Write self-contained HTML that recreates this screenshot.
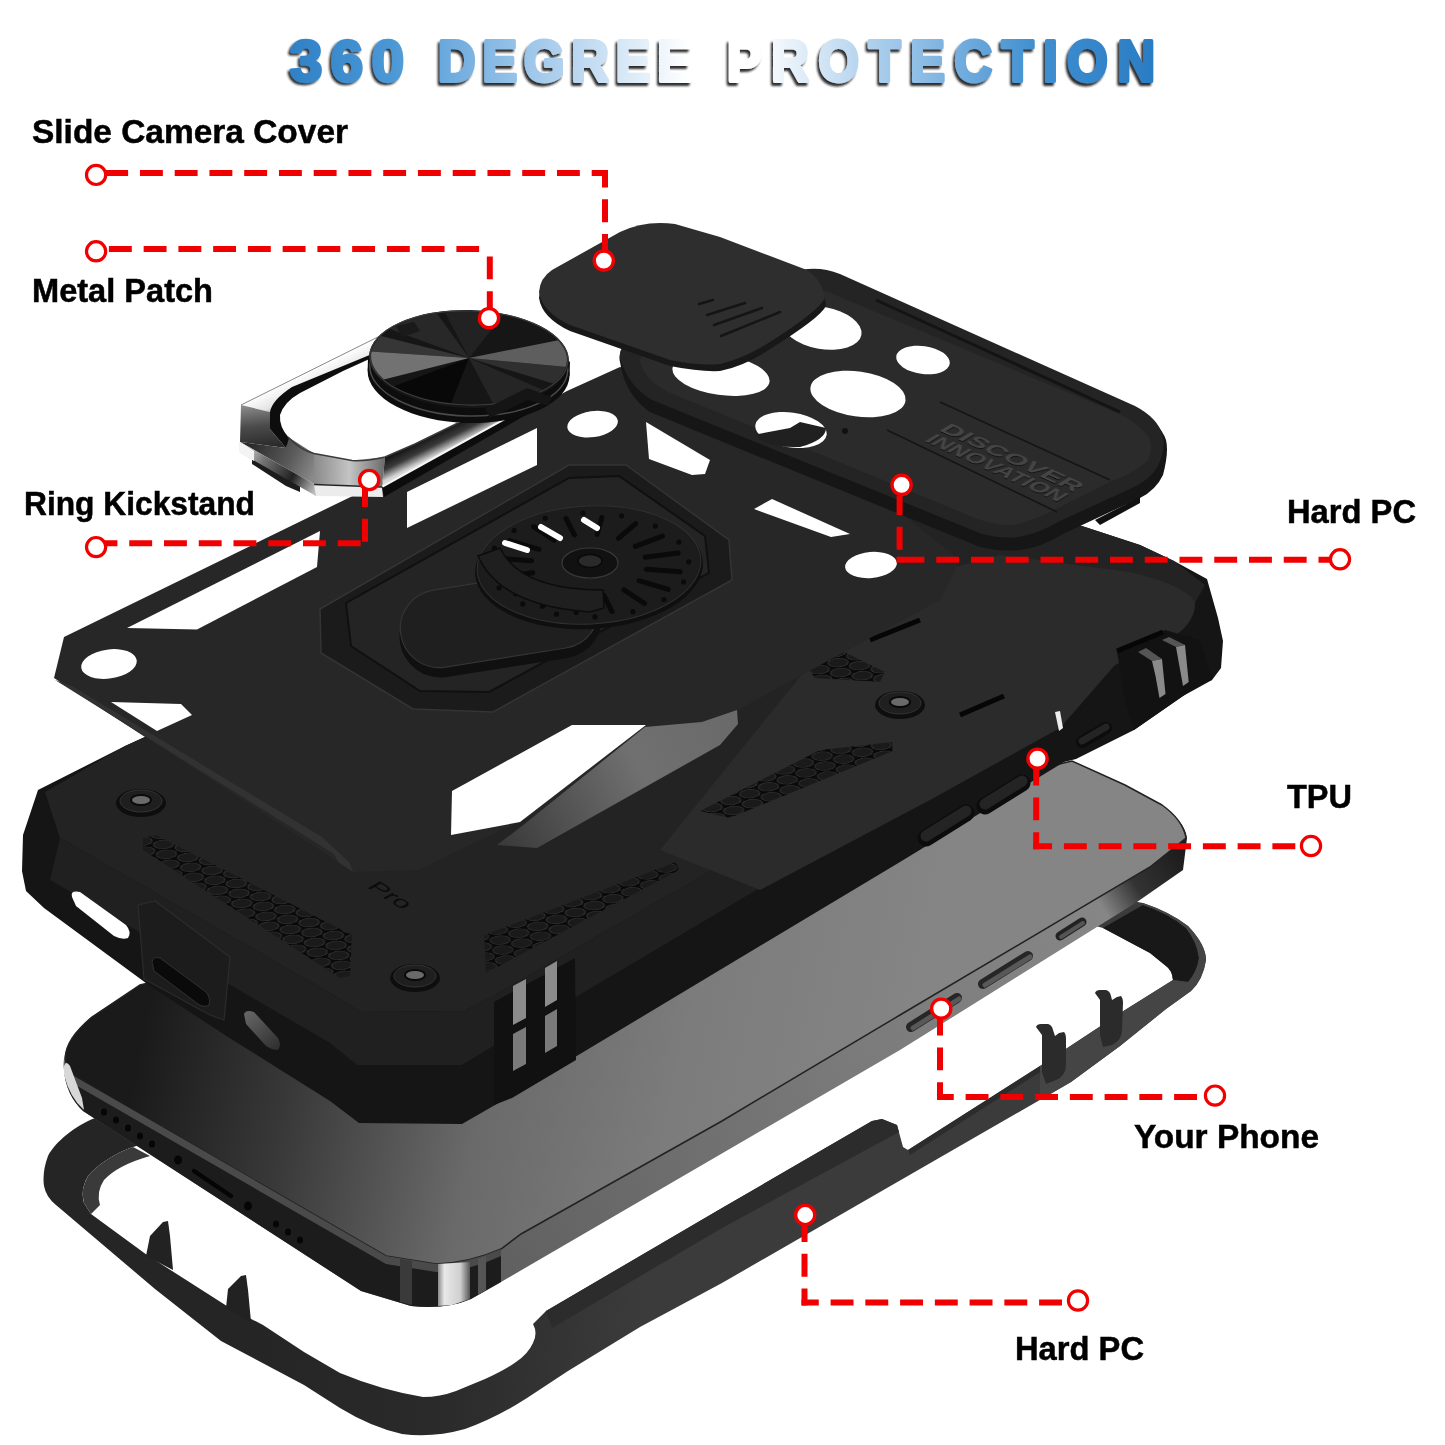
<!DOCTYPE html>
<html><head><meta charset="utf-8"><title>360 Degree Protection</title>
<style>html,body{margin:0;padding:0;background:#fff;}svg{display:block}</style></head>
<body><svg width="1445" height="1445" viewBox="0 0 1445 1445">
<rect width="1445" height="1445" fill="#fff"/>

<defs>
<linearGradient id="gTitle" x1="288" x2="1158" y1="0" y2="0" gradientUnits="userSpaceOnUse">
<stop offset="0" stop-color="#2f80c6"/><stop offset="0.12" stop-color="#4c98d6"/><stop offset="0.3" stop-color="#a9cdec"/><stop offset="0.46" stop-color="#ffffff"/><stop offset="0.54" stop-color="#ffffff"/><stop offset="0.68" stop-color="#a9cdec"/><stop offset="0.86" stop-color="#3f8fd0"/><stop offset="1" stop-color="#2a7cc4"/>
</linearGradient>
<linearGradient id="gScreen" x1="150" y1="1000" x2="900" y2="1150" gradientUnits="userSpaceOnUse">
<stop offset="0" stop-color="#1a1a1a"/><stop offset="0.2" stop-color="#383838"/><stop offset="0.45" stop-color="#6a6a6a"/><stop offset="0.7" stop-color="#7c7c7c"/><stop offset="1" stop-color="#858585"/>
</linearGradient>
<linearGradient id="gSide" x1="500" y1="1280" x2="1180" y2="850" gradientUnits="userSpaceOnUse">
<stop offset="0" stop-color="#606060"/><stop offset="0.5" stop-color="#7a7a7a"/><stop offset="0.88" stop-color="#868686"/><stop offset="0.93" stop-color="#333"/><stop offset="1" stop-color="#1c1c1c"/>
</linearGradient>
<linearGradient id="gSlab" x1="500" y1="840" x2="730" y2="720" gradientUnits="userSpaceOnUse">
<stop offset="0" stop-color="#3a3a3a"/><stop offset="0.6" stop-color="#707070"/><stop offset="1" stop-color="#6a6a6a"/>
</linearGradient>
<linearGradient id="gArm" x1="452" y1="425" x2="461" y2="443" gradientUnits="userSpaceOnUse">
<stop offset="0" stop-color="#151515"/><stop offset="0.5" stop-color="#3a3a3a"/><stop offset="1" stop-color="#d8d8d8"/>
</linearGradient>
<linearGradient id="gRingTop" x1="316" y1="367" x2="328" y2="392" gradientUnits="userSpaceOnUse">
<stop offset="0" stop-color="#ffffff"/><stop offset="0.6" stop-color="#e4e4e4"/><stop offset="1" stop-color="#8c8c8c"/>
</linearGradient>
<linearGradient id="gRingLeft" x1="255" y1="405" x2="260" y2="448" gradientUnits="userSpaceOnUse">
<stop offset="0" stop-color="#8a8a8a"/><stop offset="0.5" stop-color="#4a4a4a"/><stop offset="1" stop-color="#2a2a2a"/>
</linearGradient>
<linearGradient id="gRingBL" x1="250" y1="445" x2="314" y2="475" gradientUnits="userSpaceOnUse">
<stop offset="0" stop-color="#2a2a2a"/><stop offset="0.6" stop-color="#5a5a5a"/><stop offset="1" stop-color="#8a8a8a"/>
</linearGradient>
<linearGradient id="gRingBot" x1="314" y1="475" x2="385" y2="476" gradientUnits="userSpaceOnUse">
<stop offset="0" stop-color="#8a8a8a"/><stop offset="0.5" stop-color="#c4c4c4"/><stop offset="1" stop-color="#6a6a6a"/>
</linearGradient>
<linearGradient id="gRingEdge" x1="240" y1="447" x2="315" y2="490" gradientUnits="userSpaceOnUse">
<stop offset="0" stop-color="#f0f0f0"/><stop offset="0.3" stop-color="#777"/><stop offset="0.7" stop-color="#222"/><stop offset="1" stop-color="#bbb"/>
</linearGradient>
<linearGradient id="gBevel" x1="370" y1="350" x2="285" y2="445" gradientUnits="userSpaceOnUse">
<stop offset="0" stop-color="#bdbdbd"/><stop offset="1" stop-color="#666"/>
</linearGradient>
<linearGradient id="gSlot" x1="246" y1="1012" x2="280" y2="1050" gradientUnits="userSpaceOnUse">
<stop offset="0" stop-color="#666"/><stop offset="1" stop-color="#2c2c2c"/>
</linearGradient>
<pattern id="hex" width="20" height="34.64" patternUnits="userSpaceOnUse" patternTransform="matrix(0.94,-0.345,0.70,0.376,0,0)">
<rect width="20" height="34.64" fill="#0a0a0a"/>
<circle cx="10" cy="8.66" r="8.6" fill="#1a1a1a" stroke="#3a3a3a" stroke-width="0.9"/>
<circle cx="0" cy="25.98" r="8.6" fill="#1a1a1a" stroke="#3a3a3a" stroke-width="0.9"/>
<circle cx="20" cy="25.98" r="8.6" fill="#1a1a1a" stroke="#3a3a3a" stroke-width="0.9"/>
</pattern>
<linearGradient id="gChrome" x1="438" y1="0" x2="470" y2="0" gradientUnits="userSpaceOnUse">
<stop offset="0" stop-color="#8a8a8a"/><stop offset="0.2" stop-color="#e8e8e8"/><stop offset="0.7" stop-color="#cfcfcf"/><stop offset="1" stop-color="#555"/>
</linearGradient>
<linearGradient id="gFrame" x1="250" y1="1300" x2="640" y2="1330" gradientUnits="userSpaceOnUse">
<stop offset="0" stop-color="#252525"/><stop offset="0.5" stop-color="#2a2a2a"/><stop offset="1" stop-color="#3b3b3b"/>
</linearGradient>
<filter id="tsh" x="-3%" y="-30%" width="106%" height="170%"><feGaussianBlur in="SourceAlpha" stdDeviation="1.1" result="b"/><feOffset in="b" dx="-2.5" dy="2.3" result="o"/><feFlood flood-color="#161616" flood-opacity="0.9"/><feComposite in2="o" operator="in" result="sh"/><feMerge><feMergeNode in="sh"/><feMergeNode in="SourceGraphic"/></feMerge></filter>
<filter id="emb" x="-5%" y="-30%" width="110%" height="160%"><feOffset in="SourceAlpha" dx="1" dy="1" result="o"/><feFlood flood-color="#111"/><feComposite in2="o" operator="in" result="sh"/><feMerge><feMergeNode in="sh"/><feMergeNode in="SourceGraphic"/></feMerge></filter>
</defs>

<path d="M95,1118 C75,1126 55,1142 48,1156 Q42,1172 44,1186 Q46,1197 56,1205 L155,1289 L221,1341 L304,1385 L340,1408 Q371,1427 402,1434 Q433,1438 465,1429 Q496,1418 527,1398 L568,1371 L640,1327 L722,1283 L1071,1082 L1120,1046 L1166,1009 L1191,991 Q1203,980 1206,960 Q1206,945 1188,926 Q1170,912 1143,903 L1100,895 L900,1000 Z M133,1147 C115,1153 97,1165 88,1176 Q80,1190 84,1203 L91,1214 L147,1255 L230,1308 L263,1325 L304,1352 L340,1373 Q381,1390 423,1397 Q440,1397 456,1391 L485,1379 Q505,1370 516,1362 Q528,1354 533,1343 Q538,1333 533,1324 L546,1311 L722,1208 L872,1121 L882,1119 L897,1125 L903,1147 L908,1150 L1040,1066 L1125,1010 L1173,980 Q1172,970 1166,966 L1150,953 L1103,928 L1000,900 Z" fill="url(#gFrame)" fill-rule="evenodd"/>
<path d="M1103,928 L1143,905 Q1168,913 1186,928 Q1197,942 1199,958 Q1197,972 1188,982 L1173,980 Q1172,970 1166,966 L1150,953 Z" fill="#181818" />
<path d="M1143,903 Q1170,912 1188,926 Q1206,945 1206,960 Q1203,980 1191,991 L1166,1009 L1120,1046 L1071,1082 L1040,1100 L1040,1066 L1125,1010 L1173,980 L1188,982 Q1197,972 1199,958 Q1197,942 1186,928 Q1168,913 1143,905 Z" fill="#454545" />
<path d="M546,1311 L722,1208 L872,1121 L882,1119 L897,1125 L899,1132 L722,1228 L552,1328 Z" fill="#2c2c2c" />
<path d="M908,1150 L1040,1066 L1040,1072 L910,1155 Z" fill="#2c2c2c" />
<path d="M133,1147 C115,1153 97,1165 88,1176 Q80,1190 84,1203 L91,1214 L100,1205 Q96,1192 104,1180 Q118,1165 150,1156 Z" fill="#3a3a3a" />
<path d="M146,1256 L150,1236 L163,1222 L168,1221 L170,1236 L173,1270 Z" fill="#222" />
<path d="M226,1308 L228,1289 L241,1276 L246,1275 L248,1290 L251,1322 Z" fill="#222" />
<path d="M1095,993 Q1096,990 1100,990 L1106,990 Q1110,991 1111,996 L1112,1000 L1117,997 L1121,996 Q1123,998 1123,1003 L1122,1030 Q1122,1040 1112,1045 L1103,1047 L1100,1035 L1100,1000 Z" fill="#2b2b2b" />
<path d="M1036,1027 Q1037,1024 1041,1024 L1048,1024 Q1052,1025 1053,1030 L1055,1036 L1059,1033 L1064,1032 Q1066,1034 1066,1039 L1066,1064 Q1066,1076 1056,1080 L1046,1084 L1042,1072 L1042,1035 Z" fill="#2b2b2b" />
<path d="M64,1070 Q60,1045 90,1018 L140,985 L1072,761 L1125,785 L1162,805 Q1185,822 1187,838 L1183,870 L1137,902 L900,1050 L501,1282 L471,1299 Q445,1310 411,1306 L361,1291 L83,1111 Q66,1095 64,1070 Z" fill="url(#gSide)" />
<path d="M64,1070 L72,1075 L386,1256 L436,1264 Q470,1263 501,1249 L501,1282 L471,1299 Q445,1310 411,1306 L361,1291 L83,1111 Q66,1095 64,1070 Z" fill="#1c1c1c" />
<path d="M66,1062 Q62,1042 92,1017 L140,985 L1072,761 L1125,785 L1162,805 Q1183,820 1186,838 L1150,867 L900,1015 L722,1121 L521,1234 L501,1249 Q470,1263 436,1264 L386,1256 L72,1075 Z" fill="url(#gScreen)" stroke="#222" stroke-width="1.5"/>
<path d="M72,1075 L386,1256 L436,1264 Q470,1263 501,1249 L501,1256 Q470,1271 436,1272 L386,1264 L72,1083 Z" fill="#4a4a4a" />
<path d="M64,1066 Q66,1060 70,1066 L82,1098 L84,1110 Q70,1098 64,1075 Z" fill="#d8d8d8" />
<polygon points="400.0,1259.0 412.0,1261.0 412.0,1305.0 400.0,1302.0" fill="#3a3a3a" />
<polygon points="438.0,1264.0 470.0,1262.0 470.0,1299.0 452.0,1305.0 438.0,1306.0" fill="url(#gChrome)" />
<polygon points="478.0,1259.0 486.0,1256.0 486.0,1290.0 478.0,1295.0" fill="#555" />
<ellipse cx="104" cy="1112" rx="3" ry="3.6" fill="#060606"/>
<ellipse cx="116" cy="1120" rx="3" ry="3.6" fill="#060606"/>
<ellipse cx="128" cy="1128" rx="3" ry="3.6" fill="#060606"/>
<ellipse cx="140" cy="1136" rx="3" ry="3.6" fill="#060606"/>
<ellipse cx="152" cy="1144" rx="3" ry="3.6" fill="#060606"/>
<ellipse cx="276" cy="1224" rx="3" ry="3.6" fill="#060606"/>
<ellipse cx="288" cy="1232" rx="3" ry="3.6" fill="#060606"/>
<ellipse cx="300" cy="1240" rx="3" ry="3.6" fill="#060606"/>
<ellipse cx="178" cy="1160" rx="4" ry="4.5" fill="#060606"/><ellipse cx="248" cy="1206" rx="4" ry="4.5" fill="#060606"/>
<path d="M194,1171 L231,1196" stroke="#050505" stroke-width="4.5" stroke-linecap="round"/>
<path d="M1060,936 L1082,922" stroke="#222" stroke-width="9" stroke-linecap="round"/><path d="M1061,937 L1083,923" stroke="#555" stroke-width="4" stroke-linecap="round"/>
<path d="M983,984 L1028,956" stroke="#262626" stroke-width="10" stroke-linecap="round"/><path d="M985,985 L1030,957" stroke="#585858" stroke-width="5" stroke-linecap="round"/>
<path d="M911,1027 L957,998" stroke="#262626" stroke-width="10" stroke-linecap="round"/><path d="M913,1028 L959,999" stroke="#585858" stroke-width="5" stroke-linecap="round"/>
<path d="M230,700 L190,716 L125,746 L38,790 L23,835 L22,871 L26,891 L44,908 L150,986 L228,1037 L330,1101 L359,1123 L462,1124 L495,1105 L900,862 L1064,762 L1076,759 L1134,730 L1183,696 L1200,684 L1212,680 L1221,668 L1223,641 L1218,618 L1207,579 L1174,561 L1140,545 L1085,527 L1000,500 L560,400 Z" fill="#151515" />
<path d="M230,700 L125,746 L45,792 L60,838 L330,993 L361,1012 L464,1011 L495,995 L900,762 L1075,660 L1117,640 L1190,612 L1205,585 L1174,561 L1140,545 L1085,527 L1000,500 L560,400 Z" fill="#232323" />
<path d="M60,838 L330,993 L361,1012 L464,1011 L495,995 L900,762 L1075,660 L1075,700 L900,805 L495,1045 L462,1065 L357,1065 L330,1043 L50,880 Z" fill="#202020" />
<path d="M870,590 L1000,555 L1130,572 Q1185,585 1195,602 Q1196,625 1165,642 L1115,665 L1060,728 L930,800 L760,890 L660,850 Z" fill="#2b2b2b" />
<path d="M72,897 Q70,890 80,892 L126,925 Q132,932 128,938 Q122,940 114,936 L76,906 Z" fill="#fff" />
<path d="M244,1014 Q246,1009 254,1012 L278,1038 Q282,1045 278,1050 Q272,1050 266,1046 L246,1024 Z" fill="url(#gSlot)" />
<polygon points="138.0,905.0 155.0,901.0 230.0,957.0 224.0,1020.0 210.0,1015.0 144.0,979.0" fill="#1c1c1c" stroke="#2c2c2c" stroke-width="1.2"/>
<path d="M152,962 Q153,956 160,958 L206,992 Q211,998 209,1005 Q204,1008 198,1004 L154,971 Z" fill="#0a0a0a" stroke="#303030" stroke-width="1"/>
<path d="M926,838 L966,813" stroke="#0c0c0c" stroke-width="17" stroke-linecap="round"/><path d="M926,836 L966,811" stroke="#242424" stroke-width="11" stroke-linecap="round"/>
<path d="M985,806 L1022,783" stroke="#0c0c0c" stroke-width="17" stroke-linecap="round"/><path d="M985,804 L1022,781" stroke="#242424" stroke-width="11" stroke-linecap="round"/>
<path d="M1082,742 L1106,728" stroke="#0c0c0c" stroke-width="12" stroke-linecap="round"/><path d="M1082,741 L1106,727" stroke="#242424" stroke-width="7" stroke-linecap="round"/>
<polygon points="494.0,1002.0 575.0,958.0 576.0,1060.0 512.0,1098.0 494.0,1105.0" fill="#111" />
<polygon points="513.0,986.0 526.0,979.0 526.0,1018.0 513.0,1025.0" fill="#8c8c8c" />
<polygon points="513.0,1034.0 526.0,1027.0 526.0,1064.0 513.0,1071.0" fill="#7a7a7a" />
<polygon points="545.0,968.0 557.0,961.0 557.0,1000.0 545.0,1007.0" fill="#8c8c8c" />
<polygon points="545.0,1016.0 557.0,1009.0 557.0,1046.0 545.0,1053.0" fill="#7a7a7a" />
<polygon points="1117.0,652.0 1165.0,630.0 1200.0,640.0 1212.0,680.0 1183.0,696.0 1134.0,730.0 1125.0,700.0" fill="#121212" />
<polygon points="1138.0,652.0 1146.0,648.0 1162.0,659.0 1152.0,661.0" fill="#555" />
<polygon points="1162.0,640.0 1169.0,637.0 1185.0,645.0 1176.0,647.0" fill="#555" />
<polygon points="1152.0,661.0 1162.0,659.0 1165.5,694.0 1159.5,698.0 1155.5,676.0" fill="#8a8a8a" />
<polygon points="1176.0,647.0 1185.0,645.0 1188.7,682.0 1183.0,686.0" fill="#8a8a8a" />
<polygon points="1055.0,712.0 1060.0,711.0 1063.0,728.0 1059.0,731.0" fill="#eee" />
<path d="M1117,651 L1163,632 M960,715 L1004,696 M870,640 L920,620" stroke="#060606" stroke-width="5" fill="none"/>
<polygon points="143.0,838.0 156.0,835.0 352.0,935.0 350.0,976.0 340.0,978.0 143.0,850.0" fill="url(#hex)" />
<polygon points="484.0,935.0 676.0,862.0 679.0,870.0 486.0,973.0" fill="url(#hex)" />
<polygon points="700.0,811.0 820.0,750.0 892.0,742.0 893.0,751.0 730.0,818.0" fill="url(#hex)" />
<polygon points="735.0,620.0 760.0,612.0 800.0,640.0 790.0,652.0" fill="url(#hex)" />
<polygon points="800.0,655.0 830.0,645.0 885.0,672.0 880.0,682.0 815.0,678.0" fill="url(#hex)" />
<polygon points="195.0,738.0 215.0,732.0 253.0,756.0 250.0,768.0 205.0,752.0" fill="url(#hex)" />
<ellipse cx="415" cy="978" rx="25" ry="14" fill="#0e0e0e"/><ellipse cx="415" cy="976" rx="21" ry="11" fill="#1f1f1f" stroke="#333" stroke-width="1"/><ellipse cx="415" cy="975" rx="10" ry="5" fill="#6a6a6a" stroke="#0a0a0a" stroke-width="2"/>
<ellipse cx="141" cy="803" rx="25" ry="14" fill="#0e0e0e"/><ellipse cx="141" cy="801" rx="21" ry="11" fill="#1f1f1f" stroke="#333" stroke-width="1"/><ellipse cx="141" cy="800" rx="10" ry="5" fill="#6a6a6a" stroke="#0a0a0a" stroke-width="2"/>
<ellipse cx="900" cy="705" rx="25" ry="14" fill="#0e0e0e"/><ellipse cx="900" cy="703" rx="21" ry="11" fill="#1f1f1f" stroke="#333" stroke-width="1"/><ellipse cx="900" cy="702" rx="10" ry="5" fill="#6a6a6a" stroke="#0a0a0a" stroke-width="2"/>
<text transform="matrix(0.85,0.53,-0.62,0.36,366,887)" font-family="'Liberation Sans', sans-serif" font-size="28" fill="#0c0c0c" opacity="0.999">Pro</text>
<path d="M64,637 L334,505 L537,407 L567,391 L620,367 L640,372 L760,400 L960,560 L940,600 L600,785 L457,851 L419,870 L353,872 L338,862 L54,678 Z" fill="#272727" />
<polygon points="127.0,628.0 320.0,531.0 317.0,567.0 197.0,629.5" fill="#fff" />
<polygon points="407.0,492.0 537.0,428.0 537.0,465.0 407.0,528.0" fill="#fff" />
<polygon points="111.0,702.0 181.0,704.0 192.0,715.0 157.0,731.0" fill="#fff" />
<polygon points="55.0,680.0 334.0,854.0 338.0,862.0 353.0,872.0 349.0,862.0 322.0,837.0 72.0,686.0" fill="#323232" />
<polygon points="452.0,791.0 572.0,725.0 646.0,725.0 520.0,822.0 451.0,835.0" fill="#fff" />
<polygon points="497.0,845.0 522.0,826.0 645.0,727.0 702.0,722.0 737.0,710.0 738.0,724.0 720.0,745.0 537.0,848.0" fill="url(#gSlab)" />
<ellipse cx="109" cy="664" rx="28" ry="14.5" fill="#fff" transform="rotate(-8 109 664)"/>
<ellipse cx="593" cy="424" rx="25.5" ry="13" fill="#fff" transform="rotate(-8 594 427)"/>
<ellipse cx="871" cy="565" rx="26" ry="13" fill="#fff" transform="rotate(-5 871 565)"/>
<polygon points="320.0,609.0 569.0,465.0 626.0,465.0 729.0,540.0 732.0,580.0 493.0,712.0 413.0,709.0 321.0,653.0" fill="#1b1b1b" stroke="#343434" stroke-width="1.5"/>
<polygon points="346.0,603.0 569.0,478.0 619.0,476.0 705.0,536.0 709.0,573.0 489.0,692.0 420.0,691.0 351.0,646.0" fill="#242424" stroke="#101010" stroke-width="2"/>
<g transform="rotate(-9 500 622)"><rect x="398" y="586" width="204" height="82" rx="41" fill="#101010"/><rect x="400" y="580" width="200" height="78" rx="39" fill="#1f1f1f" stroke="#343434" stroke-width="1.2"/></g>
<ellipse cx="589" cy="568" rx="114" ry="61" fill="#0f0f0f" transform="rotate(-3 589 568)"/>
<ellipse cx="589" cy="565" rx="112" ry="59" fill="#1c1c1c" stroke="#303030" stroke-width="1" transform="rotate(-3 589 565)"/>
<ellipse cx="590" cy="563" rx="28" ry="15" fill="#111" stroke="#383838" stroke-width="1.2"/>
<ellipse cx="590" cy="561" rx="12" ry="6.5" fill="#2a2a2a" stroke="#0a0a0a" stroke-width="1.5"/>
<path d="M646.4,569.3 L680.1,571.7" stroke="#0a0a0a" stroke-width="5" stroke-linecap="round"/>
<circle cx="683.6" cy="581.9" r="2.6" fill="#0b0b0b"/>
<path d="M639.0,580.7 L668.3,589.4" stroke="#0a0a0a" stroke-width="5" stroke-linecap="round"/>
<circle cx="663.9" cy="599.5" r="2.6" fill="#0b0b0b"/>
<path d="M623.9,589.8 L644.4,603.3" stroke="#0a0a0a" stroke-width="5" stroke-linecap="round"/>
<circle cx="632.8" cy="611.7" r="2.6" fill="#0b0b0b"/>
<path d="M603.5,595.0 L612.0,611.5" stroke="#0a0a0a" stroke-width="5" stroke-linecap="round"/>
<circle cx="595.1" cy="616.9" r="2.6" fill="#0b0b0b"/>
<path d="M580.9,595.7 L576.2,612.5" stroke="#0a0a0a" stroke-width="5" stroke-linecap="round"/>
<circle cx="556.4" cy="614.2" r="2.6" fill="#0b0b0b"/>
<path d="M559.6,591.7 L542.3,606.4" stroke="#0a0a0a" stroke-width="5" stroke-linecap="round"/>
<circle cx="522.7" cy="603.9" r="2.6" fill="#0b0b0b"/>
<path d="M542.7,583.7 L515.5,593.9" stroke="#0a0a0a" stroke-width="5" stroke-linecap="round"/>
<circle cx="499.1" cy="587.8" r="2.6" fill="#0b0b0b"/>
<path d="M532.8,572.8 L499.9,577.0" stroke="#0a0a0a" stroke-width="5" stroke-linecap="round"/>
<circle cx="489.2" cy="568.2" r="2.6" fill="#0b0b0b"/>
<path d="M531.6,560.7 L497.9,558.3" stroke="#0a0a0a" stroke-width="5" stroke-linecap="round"/>
<circle cx="494.4" cy="548.1" r="2.6" fill="#0b0b0b"/>
<path d="M539.0,549.3 L509.7,540.6" stroke="#0a0a0a" stroke-width="5" stroke-linecap="round"/>
<circle cx="514.1" cy="530.5" r="2.6" fill="#0b0b0b"/>
<path d="M554.1,540.2 L533.6,526.7" stroke="#0a0a0a" stroke-width="5" stroke-linecap="round"/>
<circle cx="545.2" cy="518.3" r="2.6" fill="#0b0b0b"/>
<path d="M574.5,535.0 L566.0,518.5" stroke="#0a0a0a" stroke-width="5" stroke-linecap="round"/>
<circle cx="582.9" cy="513.1" r="2.6" fill="#0b0b0b"/>
<path d="M597.1,534.3 L601.8,517.5" stroke="#0a0a0a" stroke-width="5" stroke-linecap="round"/>
<circle cx="621.6" cy="515.8" r="2.6" fill="#0b0b0b"/>
<path d="M618.4,538.3 L635.7,523.6" stroke="#0a0a0a" stroke-width="5" stroke-linecap="round"/>
<circle cx="655.3" cy="526.1" r="2.6" fill="#0b0b0b"/>
<path d="M635.3,546.3 L662.5,536.1" stroke="#0a0a0a" stroke-width="5" stroke-linecap="round"/>
<circle cx="678.9" cy="542.2" r="2.6" fill="#0b0b0b"/>
<path d="M645.2,557.2 L678.1,553.0" stroke="#0a0a0a" stroke-width="5" stroke-linecap="round"/>
<circle cx="688.8" cy="561.8" r="2.6" fill="#0b0b0b"/>
<path d="M541,527 L560,538 M584,520 L597,528 M505,543 L527,550" stroke="#fff" stroke-width="6" stroke-linecap="round"/>
<path d="M478,556 Q500,606 590,612 L604,608 L603,590 Q520,590 500,548 Z" fill="#1f1f1f" stroke="#0c0c0c" stroke-width="1.5"/>
<polygon points="646.0,422.0 710.0,460.0 705.0,474.0 692.0,475.0 649.0,459.0" fill="#fff" />
<polygon points="754.0,509.0 772.0,499.0 850.0,534.0 831.0,537.0" fill="#fff" />
<path d="M620,362 Q617,350 630,343 L790,275 Q815,266 840,276 L1135,410 Q1160,422 1166,440 Q1169,452 1163,475 Q1156,490 1140,498 L1065,533 Q1040,548 1020,550 Q1000,552 980,547 L650,412 Q625,395 620,362 Z" fill="#161616" />
<path d="M620,358 Q618,348 630,341 L790,273 Q815,264 840,274 L1135,406 Q1158,418 1163,436 Q1166,448 1158,466 Q1150,480 1132,488 L1060,521 Q1038,534 1018,537 Q1000,539 982,534 L652,400 Q628,386 620,358 Z" fill="#242424" />
<path d="M640,362 Q640,352 652,346 L800,292 Q820,286 840,297 L1122,415 Q1145,428 1150,440 Q1153,450 1148,460 Q1140,470 1110,482 L1060,507 Q1035,520 1015,525 Q998,526 980,520 L668,392 Q645,380 640,362 Z" fill="#2b2b2b" />
<ellipse cx="721" cy="375" rx="49" ry="20" fill="#fff" transform="rotate(8 721 375)"/>
<ellipse cx="822" cy="328" rx="40" ry="21" fill="#fff" transform="rotate(10 822 328)"/>
<ellipse cx="858" cy="394" rx="48" ry="22.5" fill="#fff" transform="rotate(8 858 394)"/>
<ellipse cx="923" cy="360" rx="27" ry="14" fill="#fff" transform="rotate(8 923 360)"/>
<ellipse cx="791" cy="430" rx="36" ry="17.5" fill="#fff" transform="rotate(8 791 430)"/>
<path d="M758,434 L790,428 L800,422 L826,428 Q826,440 800,447 Q770,448 758,438 Z" fill="#202020" />
<circle cx="845" cy="431" r="3" fill="#111"/>
<path d="M940,402 L1110,480 M887,430 L1057,512" stroke="#151515" stroke-width="1.6" fill="none"/>
<path d="M876,300 L1120,412" stroke="#141414" stroke-width="3" fill="none"/>
<g transform="matrix(0.91,0.414,-0.855,0.518,938,430)" filter="url(#emb)"><text x="0" y="0" font-family="'Liberation Sans', sans-serif" font-weight="bold" font-size="20" textLength="150" lengthAdjust="spacingAndGlyphs" fill="#444">DISCOVER</text><text x="2" y="19" font-family="'Liberation Sans', sans-serif" font-weight="bold" font-size="20" textLength="148" lengthAdjust="spacingAndGlyphs" fill="#444">INNOVATION</text></g>
<polygon points="1095.0,520.0 1140.0,497.0 1140.0,503.0 1100.0,525.0" fill="#111" />
<path d="M539,298 Q540,282 552,274 L620,236 Q645,224 675,228 L720,240 L807,273 Q824,284 826,306 Q820,318 770,349 Q745,366 720,371 Q700,372 670,366 L570,331 Q542,318 539,298 Z" fill="#181818" />
<path d="M539,292 Q540,278 552,270 L620,232 Q645,220 675,224 L720,237 L807,270 Q822,280 825,298 Q820,310 770,342 Q745,358 720,364 Q700,366 670,360 L570,325 Q542,312 539,292 Z" fill="#2e2e2e" />
<path d="M699,304 L713,300 M707,315 L745,303 M714,325 L762,308 M721,336 L780,312" stroke="#151515" stroke-width="2.5" stroke-linecap="round" fill="none"/>
<polygon points="252.0,455.0 300.0,482.0 300.0,492.0 286.0,486.0 252.0,464.0" fill="#1c1c1c" />
<polygon points="241.0,405.0 392.0,330.0 397.0,334.0 372.0,354.0 292.0,387.0 270.0,412.0" fill="url(#gRingTop)" />
<polygon points="241.0,405.0 270.0,412.0 270.0,429.0 286.0,448.0 240.0,442.0" fill="url(#gRingLeft)" />
<polygon points="240.0,442.0 286.0,448.0 288.0,437.0 314.0,453.5 314.0,484.0" fill="url(#gRingBL)" />
<polygon points="314.0,453.5 352.0,460.6 385.0,457.0 382.0,487.0 314.0,484.0" fill="url(#gRingBot)" />
<polygon points="385.0,457.0 415.0,444.0 458.0,423.0 515.0,400.0 523.0,400.0 533.0,404.0 382.0,487.0" fill="url(#gArm)" />
<path d="M372,354 L292,387 Q272,400 270,412 L270,429 L286,448 L289,438 Q279,427 280,415 Q284,402 300,393 L343,371 L376,356 Z" fill="#0d0d0d" />
<path d="M288,437 Q300,450 314,453.5 L352,460.6 Q370,461 385,457 L415,444 L458,423" stroke="#3a3a3a" stroke-width="1.5" fill="none"/>
<polygon points="314.0,484.0 382.0,486.5 383.0,497.0 316.0,496.0" fill="#ececec" />
<path d="M314,484.5 L382,487" stroke="#222" stroke-width="1.5"/>
<polygon points="240.0,442.0 314.0,484.0 316.0,496.0 239.0,452.0" fill="url(#gRingEdge)" />
<polygon points="239.0,442.0 254.0,451.0 254.0,461.0 239.0,452.0" fill="#f4f4f4" />
<polygon points="382.0,487.0 533.0,404.0 545.0,404.0 384.0,497.0" fill="#0c0c0c" />
<path d="M382.5,486.5 L533,403.5" stroke="#f6f6f6" stroke-width="2" fill="none"/>
<path d="M241,405 L392,330" stroke="#888" stroke-width="1" fill="none"/>
<g transform="rotate(1.4 469 358)">
<ellipse cx="469" cy="373" rx="101" ry="50" fill="#0d0d0d"/>
<rect x="368" y="359" width="202" height="14" fill="#0d0d0d"/>
<ellipse cx="469" cy="368" rx="99" ry="48" fill="none" stroke="#4a4a4a" stroke-width="1.5"/>
<ellipse cx="469" cy="359" rx="100" ry="49" fill="#161616"/>
<clipPath id="cDisc"><ellipse cx="469" cy="358" rx="98" ry="46.5"/></clipPath>
<g clip-path="url(#cDisc)">
<polygon points="469.0,358.0 243.8,420.5 215.2,385.1 210.0,347.1" fill="#b0b0b0" opacity="0.6"/>
<polygon points="469.0,358.0 210.0,347.1 217.9,325.6 233.4,305.2" fill="#666" opacity="0.4"/>
<polygon points="469.0,358.0 704.6,305.2 726.1,339.5 726.5,375.4" fill="#9a9a9a" opacity="0.55"/>
<polygon points="469.0,358.0 726.5,375.4 714.8,398.7 694.2,420.5" fill="#555" opacity="0.4"/>
<polygon points="469.0,358.0 256.0,286.3 310.7,258.8 380.1,240.5" fill="#3a3a3a" opacity="0.5"/>
<polygon points="469.0,358.0 668.2,438.3 608.7,463.4 536.3,478.7" fill="#333" opacity="0.5"/>
<polygon points="469.0,358.0 401.7,237.3 480.3,233.1 557.9,240.5" fill="#2c2c2c" opacity="0.6"/>
<polygon points="469.0,358.0 423.9,481.1 339.0,466.3 269.8,438.3" fill="#000" opacity="0.6"/>
</g>
<ellipse cx="469" cy="358" rx="99" ry="47" fill="none" stroke="#3c3c3c" stroke-width="1.2"/>
</g>
<polygon points="396.0,326.0 414.0,322.0 420.0,331.0 402.0,337.0" fill="#1a1a1a" />
<polygon points="485.0,409.0 527.0,388.0 552.0,397.0 548.0,406.0 528.0,400.0 490.0,418.0" fill="#151515" />
<text x="290" y="81" font-family="'Liberation Sans', sans-serif" font-weight="bold" font-size="58" fill="url(#gTitle)" stroke="url(#gTitle)" stroke-width="3.5" stroke-linejoin="round" textLength="114" lengthAdjust="spacing" filter="url(#tsh)">360</text>
<text y="81" font-family="'Liberation Sans', sans-serif" font-weight="bold" font-size="52" fill="url(#gTitle)" stroke="url(#gTitle)" stroke-width="3.5" stroke-linejoin="round" transform="translate(0,81) scale(1,1.115) translate(0,-81)" filter="url(#tsh)"><tspan x="438" textLength="254" lengthAdjust="spacing">DEGREE</tspan> <tspan x="727" textLength="428" lengthAdjust="spacing">PROTECTION</tspan></text>
<g opacity="0.999">
<text x="32" y="142.5" font-family="'Liberation Sans', sans-serif" font-weight="bold" font-size="33" textLength="316" lengthAdjust="spacingAndGlyphs" fill="#000" stroke="#000" stroke-width="0.5">Slide Camera Cover</text>
<text x="32" y="302" font-family="'Liberation Sans', sans-serif" font-weight="bold" font-size="33" textLength="181" lengthAdjust="spacingAndGlyphs" fill="#000" stroke="#000" stroke-width="0.5">Metal Patch</text>
<text x="24" y="515" font-family="'Liberation Sans', sans-serif" font-weight="bold" font-size="33" textLength="231" lengthAdjust="spacingAndGlyphs" fill="#000" stroke="#000" stroke-width="0.5">Ring Kickstand</text>
<text x="1287" y="522.7" font-family="'Liberation Sans', sans-serif" font-weight="bold" font-size="33" textLength="129" lengthAdjust="spacingAndGlyphs" fill="#000" stroke="#000" stroke-width="0.5">Hard PC</text>
<text x="1287" y="808" font-family="'Liberation Sans', sans-serif" font-weight="bold" font-size="33" textLength="65" lengthAdjust="spacingAndGlyphs" fill="#000" stroke="#000" stroke-width="0.5">TPU</text>
<text x="1134" y="1148" font-family="'Liberation Sans', sans-serif" font-weight="bold" font-size="33" textLength="185" lengthAdjust="spacingAndGlyphs" fill="#000" stroke="#000" stroke-width="0.5">Your Phone</text>
<text x="1015" y="1360" font-family="'Liberation Sans', sans-serif" font-weight="bold" font-size="33" textLength="129" lengthAdjust="spacingAndGlyphs" fill="#000" stroke="#000" stroke-width="0.5">Hard PC</text>
</g>
<path d="M105.2,173 L607.9,173" fill="none" stroke="#f00000" stroke-width="6" stroke-dasharray="22.9 11.85"/>
<path d="M605,257 L605,170.1" fill="none" stroke="#f00000" stroke-width="6" stroke-dasharray="22.9 11.85"/>
<circle cx="96.1" cy="174.9" r="9.6" fill="#fff" stroke="#f00000" stroke-width="3.2"/>
<circle cx="603.8" cy="260.6" r="9.6" fill="#fff" stroke="#f00000" stroke-width="3.4"/>
<path d="M108.9,249.1 L479.1,249.1" fill="none" stroke="#f00000" stroke-width="6" stroke-dasharray="22.9 11.85"/>
<path d="M489.8,314.1 L489.8,250" fill="none" stroke="#f00000" stroke-width="6" stroke-dasharray="22.9 11.85"/>
<circle cx="96.1" cy="251.3" r="9.6" fill="#fff" stroke="#f00000" stroke-width="3.2"/>
<circle cx="489" cy="318.2" r="9.6" fill="#fff" stroke="#f00000" stroke-width="3.4"/>
<path d="M94.5,543.2 L367.9,543.2" fill="none" stroke="#f00000" stroke-width="6" stroke-dasharray="22.9 11.85"/>
<path d="M365,484 L365,546.2" fill="none" stroke="#f00000" stroke-width="6" stroke-dasharray="22.9 11.85"/>
<circle cx="96.1" cy="547.1" r="9.6" fill="#fff" stroke="#f00000" stroke-width="3.2"/>
<circle cx="369.2" cy="480" r="9.6" fill="#fff" stroke="#f00000" stroke-width="3.4"/>
<path d="M1341.4,559.7 L899.6,559.7 L899.6,496" fill="none" stroke="#f00000" stroke-width="6" stroke-dasharray="22.9 11.85" stroke-linejoin="miter"/>
<rect x="896.6" y="556.7" width="6" height="6" fill="#f00000"/>
<circle cx="1340" cy="559.3" r="9.6" fill="#fff" stroke="#f00000" stroke-width="3.2"/>
<circle cx="901.6" cy="484.9" r="9.6" fill="#fff" stroke="#f00000" stroke-width="3.4"/>
<path d="M1295.3,846.2 L1033.3,846.2" fill="none" stroke="#f00000" stroke-width="6" stroke-dasharray="22.9 11.85"/>
<path d="M1036.2,762.7 L1036.2,849.2" fill="none" stroke="#f00000" stroke-width="6" stroke-dasharray="22.9 11.85"/>
<circle cx="1311" cy="846" r="9.6" fill="#fff" stroke="#f00000" stroke-width="3.2"/>
<circle cx="1037.5" cy="758.7" r="9.6" fill="#fff" stroke="#f00000" stroke-width="3.4"/>
<path d="M1197,1097 L937,1097" fill="none" stroke="#f00000" stroke-width="6" stroke-dasharray="22.9 11.85"/>
<path d="M940,1012.7 L940,1100" fill="none" stroke="#f00000" stroke-width="6" stroke-dasharray="22.9 11.85"/>
<circle cx="1215" cy="1095.6" r="9.6" fill="#fff" stroke="#f00000" stroke-width="3.2"/>
<circle cx="941.2" cy="1008.7" r="9.6" fill="#fff" stroke="#f00000" stroke-width="3.4"/>
<path d="M1062,1302.4 L801.5,1302.4" fill="none" stroke="#f00000" stroke-width="6" stroke-dasharray="22.9 11.85"/>
<path d="M804.5,1219 L804.5,1305.4" fill="none" stroke="#f00000" stroke-width="6" stroke-dasharray="22.9 11.85"/>
<circle cx="1078" cy="1300.5" r="9.6" fill="#fff" stroke="#f00000" stroke-width="3.2"/>
<circle cx="805.2" cy="1215" r="9.6" fill="#fff" stroke="#f00000" stroke-width="3.4"/>
</svg></body></html>
